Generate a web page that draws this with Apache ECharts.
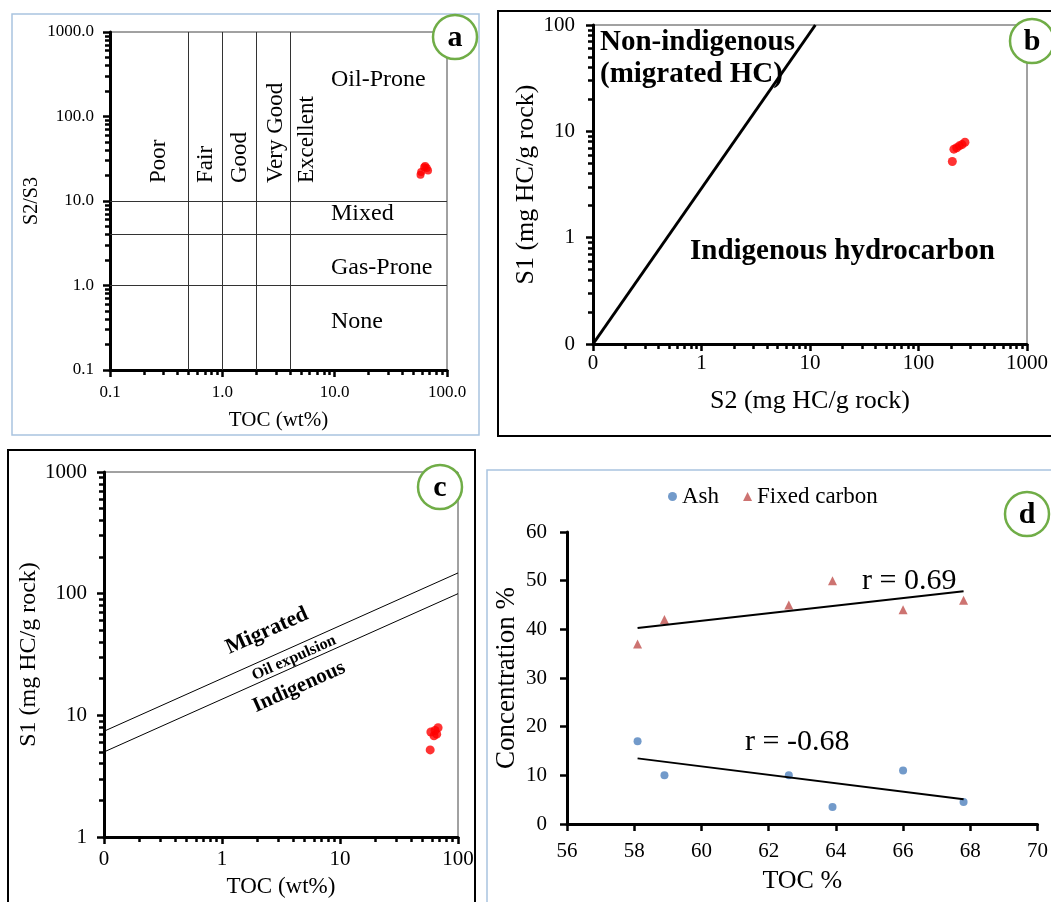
<!DOCTYPE html>
<html>
<head>
<meta charset="utf-8">
<script src="https://cdn.jsdelivr.net/npm/echarts@6/dist/echarts.min.js"></script>
<style>
  body { margin: 0; background: #fff; }
  #chart { width: 1051px; height: 902px; }
</style>
</head>
<body>
<div id="chart"></div>
<script>
// samples (same six coals in every panel)
const toc = [58.1, 58.9, 62.6, 63.9, 66.0, 67.8];
const s2s3 = [20.5, 22, 25, 26, 24.5, 23];
const s1 = [5.2, 7.3, 6.8, 7.5, 7.0, 7.9];
const s2 = [205, 238, 212, 252, 225, 268];
const ash = [17, 10, 10, 3.5, 11, 4.5];
const fixedCarbon = [37, 42, 45, 50, 44, 46];

// panel a boundaries
const qualityBounds = [0.5, 1, 2, 4];
const kerogenBounds = [10, 4, 1];
const qualityLabels = ['Poor', 'Fair', 'Good', 'Very Good', 'Excellent'];
const kerogenLabels = ['Oil-Prone', 'Mixed', 'Gas-Prone', 'None'];

// panel b / c boundary lines
const indigenousLine = [[0.1, 0.1], [11.2, 100]];
const migratedUpper = [[0.1, 7.4], [100, 148]];
const migratedLower = [[0.1, 5], [100, 100]];

const FONT = 'Liberation Serif';

function zip(xs, ys) {
  return xs.map(function (x, i) { return [x, ys[i]]; });
}

function fitLine(xs, ys) {
  const n = xs.length;
  const mx = xs.reduce((a, b) => a + b, 0) / n;
  const my = ys.reduce((a, b) => a + b, 0) / n;
  let sxy = 0, sxx = 0;
  for (let i = 0; i < n; i++) {
    sxy += (xs[i] - mx) * (ys[i] - my);
    sxx += (xs[i] - mx) * (xs[i] - mx);
  }
  const k = sxy / sxx;
  const x0 = Math.min.apply(null, xs), x1 = Math.max.apply(null, xs);
  return [[x0, my + k * (x0 - mx)], [x1, my + k * (x1 - mx)]];
}

// 2..9 inside every decade, for the small log ticks
function minorValues(min, max) {
  const out = [];
  for (let d = min; d < max * 0.99; d *= 10) {
    for (let m = 2; m <= 9; m++) out.push(+(d * m).toPrecision(3));
  }
  return out;
}

function zeroFmt(v) {
  return v < 0.99 ? '0' : String(Math.round(v));
}

function logAxis(grid, min, max, fmt, fontSize, margin, name, nameGap, nameSize) {
  return {
    type: 'log', logBase: 10, gridIndex: grid, min: min, max: max,
    axisLine: { show: true, lineStyle: { color: '#000', width: 3 } },
    axisTick: { show: true, length: 7, lineStyle: { color: '#000', width: 2.5 } },
    splitLine: { show: false },
    axisLabel: { formatter: fmt, fontFamily: FONT, fontSize: fontSize, color: '#000', margin: margin },
    name: name, nameLocation: 'middle', nameGap: nameGap,
    nameTextStyle: { fontFamily: FONT, fontSize: nameSize, color: '#000' }
  };
}

function minorAxis(grid, min, max, position) {
  return {
    type: 'log', logBase: 10, gridIndex: grid, min: min, max: max, position: position,
    axisLine: { show: false },
    axisTick: { show: true, length: 5, customValues: minorValues(min, max),
                lineStyle: { color: '#000', width: 2.5 } },
    axisLabel: { show: false },
    splitLine: { show: false }
  };
}

function label(x, y, text, size, opts) {
  opts = opts || {};
  return {
    type: 'text', x: x, y: y, rotation: opts.rotation || 0, z: 50,
    style: {
      text: text, fontFamily: FONT, fontSize: size, fill: '#000',
      fontWeight: opts.bold ? 'bold' : 'normal',
      align: opts.align || 'left', verticalAlign: 'middle'
    }
  };
}

function badge(cx, cy, letter) {
  return [
    { type: 'circle', z: 60, shape: { cx: cx, cy: cy, r: 22 },
      style: { fill: '#fff', stroke: '#70ad47', lineWidth: 2.5 } },
    { type: 'text', z: 61, x: cx, y: cy + 1,
      style: { text: letter, fontFamily: FONT, fontSize: 30, fontWeight: 'bold', fill: '#000',
               align: 'center', verticalAlign: 'middle' } }
  ];
}

const qualityX = [159, 206, 240, 276, 307];
const kerogenY = [80, 214, 268, 322];

const graphics = [
  { type: 'rect', shape: { x: 12, y: 14, width: 467, height: 421 },
    style: { fill: 'none', stroke: '#a9c4e0', lineWidth: 1.5 } },
  { type: 'rect', shape: { x: 498, y: 11, width: 620, height: 425 },
    style: { fill: 'none', stroke: '#000', lineWidth: 2 } },
  { type: 'rect', shape: { x: 8, y: 450, width: 467, height: 500 },
    style: { fill: 'none', stroke: '#000', lineWidth: 2 } },
  { type: 'rect', shape: { x: 487, y: 470, width: 620, height: 500 },
    style: { fill: 'none', stroke: '#a9c4e0', lineWidth: 1.5 } }
];
qualityLabels.forEach(function (t, i) {
  graphics.push(label(qualityX[i], 183, t, 23, { rotation: Math.PI / 2 }));
});
kerogenLabels.forEach(function (t, i) {
  graphics.push(label(331, kerogenY[i], t, 24));
});
graphics.push(label(600, 43, 'Non-indigenous', 29, { bold: true }));
graphics.push(label(600, 75, '(migrated HC)', 29, { bold: true }));
graphics.push(label(690, 252, 'Indigenous hydrocarbon', 29, { bold: true }));
const slant = 24 * Math.PI / 180;
graphics.push(label(267, 631, 'Migrated', 22, { bold: true, rotation: slant, align: 'center' }));
graphics.push(label(294, 658, 'Oil expulsion', 16, { bold: true, rotation: slant, align: 'center' }));
graphics.push(label(299, 687, 'Indigenous', 21, { bold: true, rotation: slant, align: 'center' }));
graphics.push(label(862, 581, 'r = 0.69', 30));
graphics.push(label(745, 742, 'r = -0.68', 30));
[].concat(badge(455, 37, 'a'), badge(1032, 41, 'b'), badge(440, 487, 'c'), badge(1027, 514, 'd'))
  .forEach(function (g) { graphics.push(g); });

const blackLine = function (w) { return { color: '#000', width: w, type: 'solid' }; };
const fmt1 = function (v) { return Number(v).toFixed(1); };

const option = {
  backgroundColor: '#fff',
  animation: false,
  textStyle: { fontFamily: FONT },
  legend: {
    data: ['Ash', 'Fixed carbon'], left: 663, top: 480,
    itemWidth: 9, itemHeight: 9, itemGap: 24,
    textStyle: { fontFamily: FONT, fontSize: 23, color: '#000' }
  },
  grid: [
    { left: 110, top: 32, width: 337, height: 338, show: true, borderColor: '#444', borderWidth: 1 },
    { left: 593, top: 25, width: 439, height: 319, show: true, borderColor: '#444', borderWidth: 1 },
    { left: 104, top: 472, width: 354, height: 365, show: true, borderColor: '#444', borderWidth: 1 },
    { left: 567, top: 532, width: 473, height: 292 }
  ],
  xAxis: [
    logAxis(0, 0.1, 100, fmt1, 17, 14, 'TOC (wt%)', 40, 21),
    logAxis(1, 0.1, 1000, zeroFmt, 21, 9, 'S2 (mg HC/g rock)', 44, 26),
    logAxis(2, 0.1, 100, zeroFmt, 21, 12, 'TOC (wt%)', 38, 23),
    {
      type: 'value', gridIndex: 3, min: 56, max: 70, interval: 2,
      axisLine: { show: true, lineStyle: { color: '#000', width: 3 } },
      axisTick: { show: true, length: 7, lineStyle: { color: '#000', width: 2.5 } },
      splitLine: { show: false },
      axisLabel: { fontFamily: FONT, fontSize: 21, color: '#000', margin: 17 },
      name: 'TOC %', nameLocation: 'middle', nameGap: 44,
      nameTextStyle: { fontFamily: FONT, fontSize: 26, color: '#000' }
    },
    minorAxis(0, 0.1, 100, 'bottom'),
    minorAxis(1, 0.1, 1000, 'bottom'),
    minorAxis(2, 0.1, 100, 'bottom')
  ],
  yAxis: [
    logAxis(0, 0.1, 1000, fmt1, 17, 16, 'S2/S3', 68, 20),
    logAxis(1, 0.1, 100, zeroFmt, 21, 18, 'S1 (mg HC/g rock)', 50, 26),
    logAxis(2, 1, 1000, zeroFmt, 21, 17, 'S1 (mg HC/g rock)', 58, 24),
    {
      type: 'value', gridIndex: 3, min: 0, max: 60, interval: 10,
      axisLine: { show: true, lineStyle: { color: '#000', width: 3 } },
      axisTick: { show: true, length: 7, lineStyle: { color: '#000', width: 2.5 } },
      splitLine: { show: false },
      axisLabel: { fontFamily: FONT, fontSize: 21, color: '#000', margin: 20 },
      name: 'Concentration %', nameLocation: 'middle', nameGap: 47,
      nameTextStyle: { fontFamily: FONT, fontSize: 27, color: '#000' }
    },
    minorAxis(0, 0.1, 1000, 'left'),
    minorAxis(1, 0.1, 100, 'left'),
    minorAxis(2, 1, 1000, 'left')
  ],
  series: [
    {
      name: 'S2/S3 vs TOC', type: 'scatter', xAxisIndex: 0, yAxisIndex: 0,
      data: zip(toc, s2s3), symbolSize: 8, itemStyle: { color: '#ff0000' },
      markLine: {
        silent: true, symbol: 'none', label: { show: false },
        lineStyle: { color: '#333', width: 1, type: 'solid' },
        data: qualityBounds.map(function (v) { return { xAxis: v }; })
          .concat(kerogenBounds.map(function (v) { return { yAxis: v }; }))
      }
    },
    {
      name: 'indigenous line', type: 'line', xAxisIndex: 1, yAxisIndex: 1,
      data: indigenousLine, symbol: 'none', lineStyle: blackLine(3), z: 3
    },
    {
      name: 'S1 vs S2', type: 'scatter', xAxisIndex: 1, yAxisIndex: 1,
      data: zip(s2, s1), symbolSize: 9, itemStyle: { color: '#ff0000' }
    },
    {
      name: 'upper', type: 'line', xAxisIndex: 2, yAxisIndex: 2,
      data: migratedUpper, symbol: 'none', lineStyle: blackLine(1)
    },
    {
      name: 'lower', type: 'line', xAxisIndex: 2, yAxisIndex: 2,
      data: migratedLower, symbol: 'none', lineStyle: blackLine(1)
    },
    {
      name: 'S1 vs TOC', type: 'scatter', xAxisIndex: 2, yAxisIndex: 2,
      data: zip(toc, s1), symbolSize: 9, itemStyle: { color: '#ff0000' }
    },
    {
      name: 'Ash', type: 'scatter', xAxisIndex: 3, yAxisIndex: 3,
      data: zip(toc, ash), symbol: 'circle', symbolSize: 8, itemStyle: { color: '#4f81bd' }
    },
    {
      name: 'Fixed carbon', type: 'scatter', xAxisIndex: 3, yAxisIndex: 3,
      data: zip(toc, fixedCarbon), symbol: 'triangle', symbolSize: 9, itemStyle: { color: '#c0504d' }
    },
    {
      name: 'Ash fit', type: 'line', xAxisIndex: 3, yAxisIndex: 3,
      data: fitLine(toc, ash), symbol: 'none', lineStyle: blackLine(2)
    },
    {
      name: 'Fixed carbon fit', type: 'line', xAxisIndex: 3, yAxisIndex: 3,
      data: fitLine(toc, fixedCarbon), symbol: 'none', lineStyle: blackLine(2)
    }
  ],
  graphic: graphics
};

const chart = echarts.init(document.getElementById('chart'));
chart.setOption(option);
</script>
</body>
</html>
